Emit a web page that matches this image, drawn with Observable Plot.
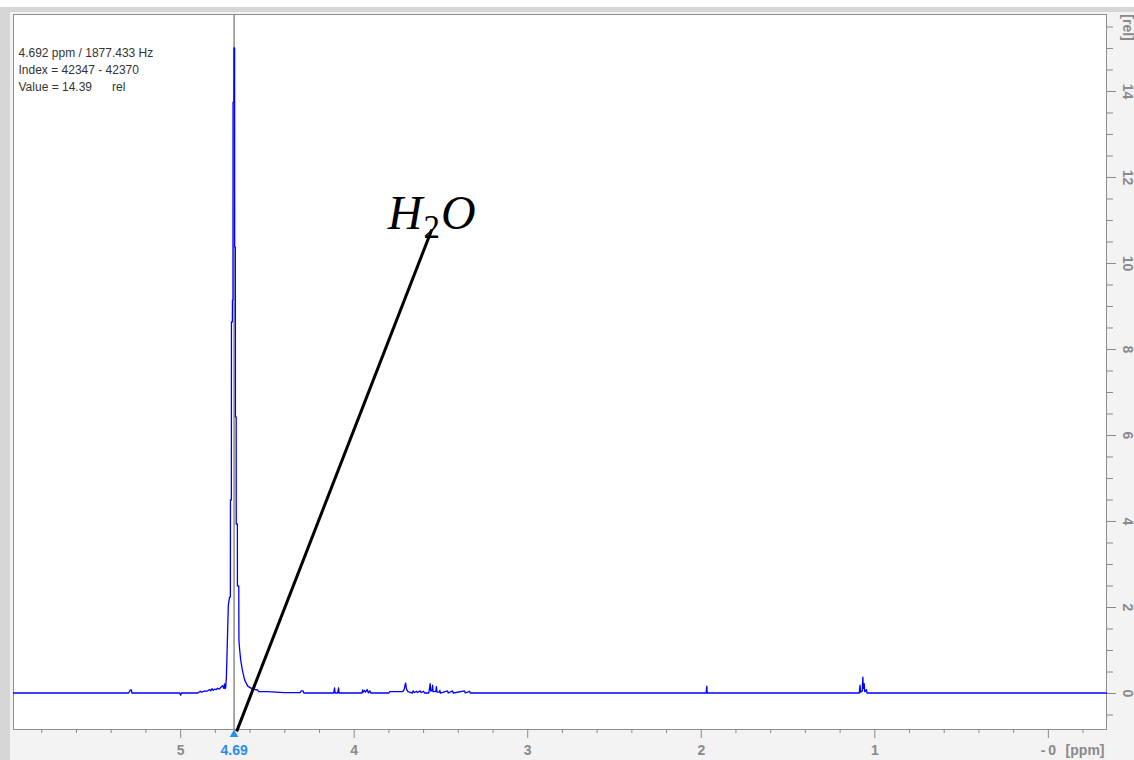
<!DOCTYPE html>
<html>
<head>
<meta charset="utf-8">
<script src="https://cdn.jsdelivr.net/npm/d3@7"></script>
<script src="https://cdn.jsdelivr.net/npm/@observablehq/plot@0.6"></script>
<style>
  html, body { margin: 0; padding: 0; background: #ffffff; }
  #chart { position: absolute; left: 0; top: 0; width: 1134px; height: 760px; }
</style>
</head>
<body>
<div id="chart"></div>
<script>
// 1H spectrum trace: chemical shift (ppm) and relative intensity
const ppm = [
  5.963, 5.300, 5.295, 5.290, 5.284, 5.280, 5.005, 5.000, 4.995,
  4.900, 4.887, 4.880, 4.870, 4.860, 4.850, 4.840, 4.833, 4.826, 4.820,
  4.812, 4.805, 4.795, 4.787, 4.778, 4.770, 4.765, 4.758, 4.752, 4.747, 4.744,
  4.7405, 4.7364, 4.7330, 4.7290, 4.7249, 4.7180, 4.7134, 4.7130, 4.7076, 4.7072,
  4.7018, 4.7014, 4.6984, 4.6980, 4.6930, 4.6926, 4.6890, 4.6886, 4.6845, 4.6842,
  4.6799, 4.6796, 4.6730, 4.6727, 4.6650, 4.6640, 4.6597, 4.6540, 4.6442, 4.6309,
  4.6136, 4.5848, 4.5560, 4.5500, 4.5000, 4.4500, 4.4000, 4.3100, 4.3050, 4.2950, 4.2900,
  4.118, 4.113, 4.110, 4.095, 4.090, 4.087,
  3.955, 3.951, 3.948, 3.940, 3.935, 3.925, 3.918, 3.910, 3.905,
  3.800, 3.795, 3.740, 3.720, 3.712, 3.706, 3.703, 3.700, 3.695, 3.690,
  3.665, 3.660, 3.655, 3.640, 3.635, 3.620, 3.615, 3.600, 3.595,
  3.570, 3.562, 3.559, 3.552, 3.548, 3.545, 3.530, 3.526, 3.523, 3.510, 3.506, 3.503,
  3.462, 3.458, 3.433, 3.429, 3.364, 3.360, 3.335, 3.331,
  1.972, 1.970, 1.968, 1.966,
  1.090, 1.085, 1.082, 1.072, 1.069, 1.066, 1.061, 1.058, 1.048, 1.045,
  -0.335
];
const intensity = [
  0, 0, 0.03, 0.07, 0.07, 0, 0, -0.05, 0,
  0, 0.04, 0.02, 0.03, 0.05, 0.04, 0.06, 0.08, 0.05, 0.10,
  0.06, 0.09, 0.08, 0.11, 0.09, 0.12, 0.15, 0.17, 0.11, 0.21, 0.10,
  0.12, 0.37, 0.84, 1.47, 2.05, 2.23, 2.23, 4.49, 4.49, 8.63,
  8.63, 9.14, 9.14, 13.74, 13.74, 15.00, 15.00, 10.37, 10.37, 6.42,
  6.42, 3.93, 3.93, 2.49, 2.49, 1.23, 1.00, 0.77, 0.53, 0.30,
  0.16, 0.09, 0.07, 0.03, 0.03, 0.02, 0.01, 0.01, 0.05, 0.05, 0,
  0, 0.12, 0, 0, 0.12, 0,
  0, 0.07, 0.02, 0.06, 0.02, 0.08, 0, 0.05, 0,
  0, 0.03, 0.03, 0.03, 0.08, 0.20, 0.23, 0.12, 0.06, 0.03,
  0, 0.05, 0.01, 0.04, 0.01, 0.05, 0.01, 0.04, 0,
  0, 0.22, 0.05, 0.05, 0.18, 0.03, 0.04, 0.15, 0.02, 0.02, 0.06, 0,
  0.05, 0, 0.05, 0, 0.05, 0, 0.04, 0,
  0, 0.08, 0.16, 0,
  0, 0.18, 0.02, 0.05, 0.37, 0.10, 0.22, 0.03, 0.08, 0,
  0
];

// Axis ticks
const xMajor = [5, 4, 3, 2, 1, 0];
const xMinor = [5.8, 5.6, 5.4, 5.2, 4.8, 4.6, 4.4, 4.2, 3.8, 3.6, 3.4, 3.2,
                2.8, 2.6, 2.4, 2.2, 1.8, 1.6, 1.4, 1.2, 0.8, 0.6, 0.4, 0.2, -0.2];
const yMajor = [0, 2, 4, 6, 8, 10, 12, 14];
const yMinor = [-0.5, 0.5, 1, 1.5, 2.5, 3, 3.5, 4.5, 5, 5.5, 6.5, 7, 7.5, 8.5, 9, 9.5,
                10.5, 11, 11.5, 12.5, 13, 13.5, 14.5, 15, 15.5];
const xUnit = "[ppm]";
const yUnit = "[rel]";

// Cursor readout
const cursorPpm = [4.692];
const cursorLabel = ["4.69"];
const infoLines = ["4.692 ppm / 1877.433 Hz", "Index = 42347 - 42370", "Value = 14.39\u00a0\u00a0\u00a0\u00a0\u00a0 rel"];

// Peak annotation and its leader line
const annotationText = ["H2O"];
const annotationPpm = [3.806];
const annotationValue = [10.80];
const leaderFrom = [{ppm: 4.677, value: -0.88}];
const leaderTo = [{ppm: 3.5525, value: 10.79}];

const spectrum = ppm.map((p, i) => ({ppm: p, value: intensity[i]}));
const leader = leaderFrom.map((a, i) => ({a, b: leaderTo[i]}));
const annotations = annotationText.map((t, i) => ({t, x: annotationPpm[i], y: annotationValue[i]}));

const sans = "Liberation Sans, Arial, Helvetica, sans-serif";
const axisGray = "#8a8a8a";
const cursorBlue = "#2a8fe4";
const tickFont = {fill: axisGray, fontWeight: "bold", fontSize: 14, fontFamily: sans};

const plot = Plot.plot({
  width: 1134,
  height: 760,
  marginLeft: 13,
  marginRight: 28,
  marginTop: 14,
  marginBottom: 31,
  style: {background: "transparent", overflow: "visible", fontFamily: sans},
  x: {domain: [5.963, -0.335], axis: null},
  y: {domain: [-0.837, 15.79], axis: null},
  marks: [
    Plot.frame({fill: "white", stroke: "#8e8e8e"}),
    // bottom ppm axis
    Plot.axisX(xMinor, {anchor: "bottom", tickSize: 4, tickFormat: () => "", stroke: axisGray, label: null}),
    Plot.axisX(xMajor, {anchor: "bottom", tickSize: 9, tickFormat: () => "", stroke: axisGray, label: null}),
    Plot.text(xMajor, {
      x: d => d, text: d => d === 0 ? "-\u20090" : String(d),
      frameAnchor: "bottom", dy: 21,
      textAnchor: "middle", lineAnchor: "middle", ...tickFont
    }),
    Plot.text([xUnit], {
      text: d => d, frameAnchor: "bottom-right", dx: -2, dy: 21,
      textAnchor: "end", lineAnchor: "middle", ...tickFont
    }),
    // right intensity axis
    Plot.axisY(yMinor, {anchor: "right", tickSize: 6, tickFormat: () => "", stroke: axisGray, label: null}),
    Plot.axisY(yMajor, {anchor: "right", tickSize: 9, tickFormat: () => "", stroke: axisGray, label: null}),
    Plot.text(yMajor, {
      y: d => d, text: d => String(d), frameAnchor: "right", dx: 21, rotate: 90,
      textAnchor: "middle", lineAnchor: "middle", ...tickFont
    }),
    Plot.text([yUnit], {
      text: d => d, frameAnchor: "top-right", dx: 21, dy: 13, rotate: 90,
      textAnchor: "middle", lineAnchor: "middle", ...tickFont
    }),
    // cursor
    Plot.ruleX(cursorPpm, {x: d => d, stroke: "#8c8c8c", strokeWidth: 1.5}),
    // spectrum trace
    Plot.line(spectrum, {x: "ppm", y: "value", stroke: "#0000ff", strokeWidth: 1.3, dy: -0.5}),
    // cursor marker on the axis
    Plot.dot(cursorPpm, {x: d => d, frameAnchor: "bottom", dy: 5, symbol: "triangle", r: 3.2, fill: cursorBlue, stroke: "none"}),
    Plot.text(cursorLabel, {
      x: () => cursorPpm[0], text: d => d, frameAnchor: "bottom", dy: 21,
      textAnchor: "middle", lineAnchor: "middle", ...tickFont, fill: cursorBlue
    }),
    // cursor readout
    Plot.text([infoLines.join("\n")], {
      text: d => d, frameAnchor: "top-left", dx: 5, dy: 30,
      textAnchor: "start", lineAnchor: "top", lineHeight: 17 / 12,
      fill: "#333333", fontSize: 12, fontFamily: sans
    }),
    // leader line and label
    Plot.link(leader, {
      x1: d => d.a.ppm, y1: d => d.a.value, x2: d => d.b.ppm, y2: d => d.b.value,
      stroke: "#000000", strokeWidth: 3
    }),
    Plot.text(annotations, {
      x: "x", y: "y", text: "t", textAnchor: "start", lineAnchor: "bottom",
      fill: "#000000", fontSize: 48, fontStyle: "italic",
      fontFamily: "Liberation Serif, DejaVu Serif, serif"
    })
  ]
});

// Window panel behind the plot frame
const bg = d3.select(plot).insert("g", ":first-child");
bg.append("rect").attr("x", 0).attr("y", 7).attr("width", 1134).attr("height", 753).attr("fill", "#d6d6d6");
bg.append("rect").attr("x", 10).attr("y", 12).attr("width", 1124).attr("height", 748).attr("fill", "#f3f3f3");

// Chemical formula with subscript digit
d3.select(plot).selectAll("text").filter(function () { return this.textContent === annotationText[0]; }).each(function () {
  const t = d3.select(this);
  const s = t.text();
  t.text(null);
  t.append("tspan").text(s[0]);
  t.append("tspan").attr("font-style", "normal").attr("font-size", 33).attr("dy", 9).attr("dx", 1).text(s[1]);
  t.append("tspan").attr("dy", -9).attr("dx", 1).text(s.slice(2));
});

document.getElementById("chart").appendChild(plot);
</script>
</body>
</html>
